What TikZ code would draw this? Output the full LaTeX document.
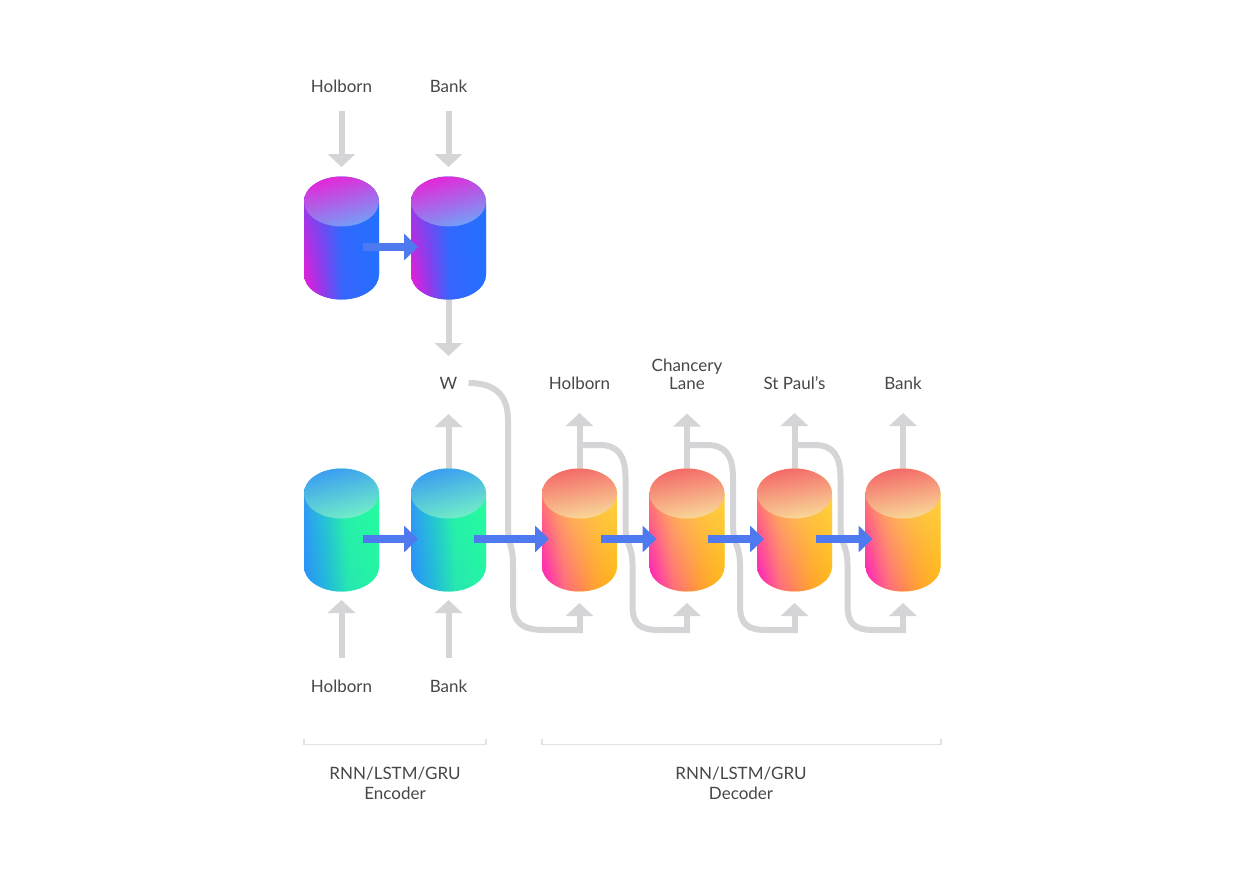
\documentclass[tikz,border=0pt]{standalone}
\usepackage{fontspec}
\setmainfont{Lato}
\usetikzlibrary{arrows.meta,calc,fadings}
\definecolor{txt}{HTML}{474747}
\definecolor{gr}{HTML}{D5D5D7}
\definecolor{blu}{HTML}{4F7AEF}
\definecolor{brk}{HTML}{E2E2E4}
% purple
\definecolor{p1}{HTML}{7A44F0}\definecolor{p2}{HTML}{4A5CF8}\definecolor{p3}{HTML}{2A6CFF}\definecolor{p4}{HTML}{2470FF}
\definecolor{q1}{HTML}{F818D4}\definecolor{q2}{HTML}{A034E8}\definecolor{q3}{HTML}{3A64FC}
\definecolor{pT1}{HTML}{E724D8}\definecolor{pT2}{HTML}{70A2F8}
% teal
\definecolor{t1}{HTML}{30A0F4}\definecolor{t2}{HTML}{28D0CC}\definecolor{t3}{HTML}{26F8A4}\definecolor{t4}{HTML}{25FF9C}
\definecolor{u1}{HTML}{2A90FA}\definecolor{u2}{HTML}{24B8DC}\definecolor{u3}{HTML}{26E8B0}\definecolor{u4}{HTML}{26F4A4}
\definecolor{tT1}{HTML}{3A9CF2}\definecolor{tT2}{HTML}{72F0C6}
% decoder
\definecolor{d1c}{HTML}{FF9652}\definecolor{d2c}{HTML}{FFC04C}\definecolor{d3c}{HTML}{FFD44C}\definecolor{d4c}{HTML}{FFD84C}
\definecolor{e1c}{HTML}{FF12CC}\definecolor{e2c}{HTML}{FF6A80}\definecolor{e3c}{HTML}{FFA030}\definecolor{e4c}{HTML}{FFB814}
\definecolor{dT1}{HTML}{F46868}\definecolor{dT2}{HTML}{F8DA98}
\pgfdeclarehorizontalshading{purB}{100bp}{color(0bp)=(p1); color(25bp)=(p1); color(38bp)=(p2); color(50bp)=(p3); color(75bp)=(p4); color(100bp)=(p4)}
\pgfdeclarehorizontalshading{purO}{100bp}{color(0bp)=(q1); color(25bp)=(q1); color(37bp)=(q2); color(50bp)=(q3); color(75bp)=(p4); color(100bp)=(p4)}
\pgfdeclarehorizontalshading{tealB}{100bp}{color(0bp)=(t1); color(25bp)=(t1); color(40bp)=(t2); color(52bp)=(t3); color(75bp)=(t4); color(100bp)=(t4)}
\pgfdeclarehorizontalshading{tealO}{100bp}{color(0bp)=(u1); color(25bp)=(u1); color(40bp)=(u2); color(55bp)=(u3); color(75bp)=(u4); color(100bp)=(u4)}
\pgfdeclarehorizontalshading{decB}{100bp}{color(0bp)=(d1c); color(25bp)=(d1c); color(36bp)=(d2c); color(48bp)=(d3c); color(75bp)=(d4c); color(100bp)=(d4c)}
\pgfdeclarehorizontalshading{decO}{100bp}{color(0bp)=(e1c); color(25bp)=(e1c); color(40bp)=(e2c); color(60bp)=(e3c); color(75bp)=(e4c); color(100bp)=(e4c)}
\tikzfading[name=decfade, top color=transparent!100, middle color=transparent!90, bottom color=transparent!0]
\tikzset{
  cylbox/.style={minimum width=75pt, minimum height=123pt, inner sep=0pt, outer sep=0pt},
  lbl/.style={font=\fontsize{17}{18}\selectfont, text=txt, inner sep=0pt, align=center},
  garr/.style={draw=gr, line width=6pt, -{Triangle[width=27pt,length=13pt]}},
  gline/.style={draw=gr, line width=6pt},
  barr/.style={draw=blu, line width=8pt, -{Triangle[width=26pt,length=14pt]}},
  purbase/.style={shading=purB},
  purover/.style={shading=purO, path fading=north},
  purtop/.style={top color=pT1, bottom color=pT2, shading angle=15},
  tealbase/.style={shading=tealB},
  tealover/.style={shading=tealO, path fading=north},
  tealtop/.style={top color=tT1, bottom color=tT2, shading angle=15},
  decbase/.style={shading=decB},
  decover/.style={shading=decO, path fading=decfade},
  dectop/.style={top color=dT1, bottom color=dT2, shading angle=10},
}
\newcommand\cylshape[5]{%
  \shade[#3] (#1-37.5,#2+36.5) -- (#1-37.5,#2-36.5)
    arc[start angle=180,end angle=360,x radius=37.5pt,y radius=25pt]
    -- (#1+37.5,#2+36.5)
    arc[start angle=0,end angle=180,x radius=37.5pt,y radius=25pt] -- cycle;
  \shade[#4] (#1-37.5,#2+36.5) -- (#1-37.5,#2-36.5)
    arc[start angle=180,end angle=360,x radius=37.5pt,y radius=25pt]
    -- (#1+37.5,#2+36.5)
    arc[start angle=0,end angle=180,x radius=37.5pt,y radius=25pt] -- cycle;
  \shade[#5] (#1,#2+36.5) ellipse[x radius=37.5pt, y radius=25pt];
}
\newcommand\fbloop[3]{%
  \draw[gline] ([yshift=23.5pt]#2.north) -- (#1+20,-445)
    .. controls (#1+38,-445) and (#1+46,-455) .. (#1+46,-478)
    -- (#1+46,-525)
    .. controls (#1+46,-545) and (#1+53,-545) .. (#1+53,-565)
    -- (#1+53,-605)
    .. controls (#1+53,-624) and (#1+60,-630) .. (#1+80,-630)
    -- ($(#3.south)+(3,-38.5)$);
}
\begin{document}
\begin{tikzpicture}[x=1pt,y=1pt]
\fill[white] (0,0) rectangle (1245,-881);
\useasboundingbox (0,0) rectangle (1245,-881);
% cylinder anchors
\node[cylbox] (e1) at (341.5,-238) {};
\node[cylbox] (e2) at (448.5,-238) {};
\node[cylbox] (b1) at (341.5,-530) {};
\node[cylbox] (b2) at (448.5,-530) {};
\node[cylbox] (d1) at (579.5,-530) {};
\node[cylbox] (d2) at (687,-530) {};
\node[cylbox] (d3) at (794.5,-530) {};
\node[cylbox] (d4) at (903,-530) {};
% labels
\node[lbl] (tH) at (341.5,-86) {Holborn};
\node[lbl] (tB) at (448.5,-86) {Bank};
\node[lbl] (W) at (448.5,-383) {W};
\node[lbl] (oH) at (579.5,-383) {Holborn};
\node[lbl] (oC) at (687,-374) {Chancery\\Lane};
\node[lbl] (oS) at (794.5,-383) {St Paul’s};
\node[lbl] (oB) at (903,-383) {Bank};
\node[lbl] (iH) at (341.5,-686) {Holborn};
\node[lbl] (iB) at (448.5,-686) {Bank};
\node[lbl, font=\fontsize{17}{20}\selectfont] (encL) at (395,-783) {RNN/LSTM/GRU\\Encoder};
\node[lbl, font=\fontsize{17}{20}\selectfont] (decL) at (741,-783) {RNN/LSTM/GRU\\Decoder};
% brackets
\draw[brk, line width=1.2pt] (304,-739) -- (304,-744.5) -- (486,-744.5) -- (486,-739);
\draw[brk, line width=1.2pt] (542,-739) -- (542,-744.5) -- (941,-744.5) -- (941,-739);
% gray arrows
\draw[garr] ([yshift=-25pt]tH.center) -- ([yshift=9.5pt]e1.north);
\draw[garr] ([yshift=-25pt]tB.center) -- ([yshift=9.5pt]e2.north);
\draw[garr] ([yshift=10pt]e2.south) -- ([yshift=27pt]W.center);
\draw[garr] ([yshift=-10pt]b2.north) -- ([yshift=-31pt]W.center);
\draw[garr] ([yshift=28pt]iH.center) -- ([yshift=-8.5pt]b1.south);
\draw[garr] ([yshift=28pt]iB.center) -- ([yshift=-8.5pt]b2.south);
\draw[garr] ([yshift=-10pt]d1.north) -- ([yshift=-30pt]oH.center);
\draw[garr] ([yshift=-10pt]d2.north) -- ([yshift=55pt]d2.north);
\draw[garr] ([yshift=-10pt]d3.north) -- ([yshift=-30pt]oS.center);
\draw[garr] ([yshift=-10pt]d4.north) -- ([yshift=-30pt]oB.center);
% W loop
\coordinate (wOut) at ([xshift=11pt]W.east);
\draw[gline] (wOut) .. controls (495,-383) and (508,-395) .. (508,-420)
  -- (508,-525) .. controls (508,-545) and (513,-545) .. (513,-565)
  -- (513,-602) .. controls (513,-623) and (522,-630) .. (545,-630)
  -- ($(d1.south)+(3,-38.5)$);
\fbloop{579.5}{d1}{d2}
\fbloop{687}{d2}{d3}
\fbloop{794.5}{d3}{d4}
\foreach \n in {d1,d2,d3,d4}{
  \draw[garr] ($(\n.south)+(0,-41.5)$) -- ($(\n.south)+(0,-11.5)$);
}
% cylinders
\cylshape{341.5}{-238}{purbase}{purover}{purtop}
\cylshape{448.5}{-238}{purbase}{purover}{purtop}
\cylshape{341.5}{-530}{tealbase}{tealover}{tealtop}
\cylshape{448.5}{-530}{tealbase}{tealover}{tealtop}
\cylshape{579.5}{-530}{decbase}{decover}{dectop}
\cylshape{687}{-530}{decbase}{decover}{dectop}
\cylshape{794.5}{-530}{decbase}{decover}{dectop}
\cylshape{903}{-530}{decbase}{decover}{dectop}
% blue arrows
\draw[barr] ([shift={(21pt,-9pt)}]e1.center) -- ([shift={(7pt,-9pt)}]e2.west);
\draw[barr] ([shift={(21pt,-9pt)}]b1.center) -- ([shift={(7pt,-9pt)}]b2.west);
\draw[barr] ([shift={(25pt,-9pt)}]b2.center) -- ([shift={(7pt,-9pt)}]d1.west);
\draw[barr] ([shift={(21pt,-9pt)}]d1.center) -- ([shift={(7pt,-9pt)}]d2.west);
\draw[barr] ([shift={(21pt,-9pt)}]d2.center) -- ([shift={(7pt,-9pt)}]d3.west);
\draw[barr] ([shift={(21pt,-9pt)}]d3.center) -- ([shift={(7pt,-9pt)}]d4.west);
\end{tikzpicture}
\end{document}
